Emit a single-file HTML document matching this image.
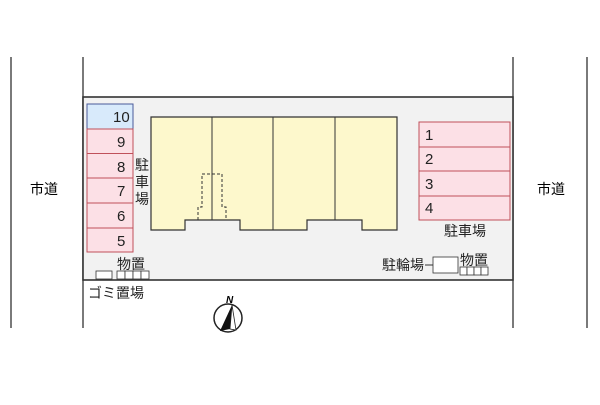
<!DOCTYPE html>
<html><head><style>body{margin:0;background:#fff}</style></head><body>
<svg width="600" height="400" xmlns="http://www.w3.org/2000/svg" font-family="Liberation Sans, Noto Sans CJK JP, sans-serif">
<rect width="600" height="400" fill="#fff"/>
<g stroke="#333" stroke-width="1.3">
<line x1="11" y1="57" x2="11" y2="328"/><line x1="83" y1="57" x2="83" y2="328"/>
<line x1="513" y1="57" x2="513" y2="328"/><line x1="587" y1="57" x2="587" y2="328"/>
</g>
<rect x="83" y="97" width="430" height="183" fill="#f2f2f2" stroke="#333" stroke-width="1.6"/>
<text x="30" y="194" font-size="14">市道</text>
<text x="537" y="194" font-size="14">市道</text>
<rect x="87" y="104" width="46" height="25" fill="#d8eafb" stroke="#4a5a9a"/>
<g fill="#fce0e6" stroke="#c0505a">
<rect x="87" y="129" width="46" height="24.5"/><rect x="87" y="153.5" width="46" height="24.5"/>
<rect x="87" y="178" width="46" height="25"/><rect x="87" y="203" width="46" height="25"/>
<rect x="87" y="228" width="46" height="24"/>
<rect x="419" y="122" width="91" height="25"/><rect x="419" y="147" width="91" height="24"/>
<rect x="419" y="171" width="91" height="25"/><rect x="419" y="196" width="91" height="24"/>
</g>
<g font-size="15" fill="#222">
<text x="113" y="122">10</text><text x="117" y="147">9</text><text x="117" y="172">8</text>
<text x="117" y="196">7</text><text x="117" y="221">6</text><text x="117" y="246">5</text>
<text x="425" y="140">1</text><text x="425" y="164">2</text><text x="425" y="189">3</text><text x="425" y="213">4</text>
</g>
<path d="M151 117H397V230H362V220H307V230H240V220H185V230H151Z" fill="#fdf8cc" stroke="#333" stroke-width="1.2"/>
<g stroke="#333"><line x1="212" y1="117" x2="212" y2="220"/><line x1="273" y1="117" x2="273" y2="230"/><line x1="335" y1="117" x2="335" y2="220"/></g>
<path d="M198 220V207H202V174H222V207H226V220" fill="none" stroke="#333" stroke-dasharray="3,2"/>
<g font-size="14" fill="#222">
<text x="135" y="170">駐</text><text x="135" y="187">車</text><text x="135" y="204">場</text>
<text x="444" y="236">駐車場</text>
<text x="382" y="270">駐輪場</text>
<text x="460" y="265">物置</text>
<text x="117" y="269">物置</text>
<text x="88" y="298">ゴミ置場</text>
</g>
<g fill="#fff" stroke="#333" stroke-width="0.8">
<rect x="96" y="271" width="16" height="8"/>
<rect x="117" y="271" width="8" height="8"/><rect x="125" y="271" width="8" height="8"/><rect x="133" y="271" width="8" height="8"/><rect x="141" y="271" width="8" height="8"/>
<rect x="433" y="257" width="25" height="16"/>
<rect x="460" y="267" width="7" height="8"/><rect x="467" y="267" width="7" height="8"/><rect x="474" y="267" width="7" height="8"/><rect x="481" y="267" width="7" height="8"/>
</g>
<line x1="425" y1="265" x2="433" y2="265" stroke="#333"/>
<circle cx="228" cy="318" r="14" fill="#fff" stroke="#222" stroke-width="1.5"/>
<path d="M232 305L220 331L230 329Z" fill="#111"/><path d="M232 305L230 329L236 330Z" fill="#fff" stroke="#222" stroke-width="0.8"/>
<text x="226" y="303" font-size="10" font-style="italic" font-weight="bold">N</text>
</svg>
</body></html>
